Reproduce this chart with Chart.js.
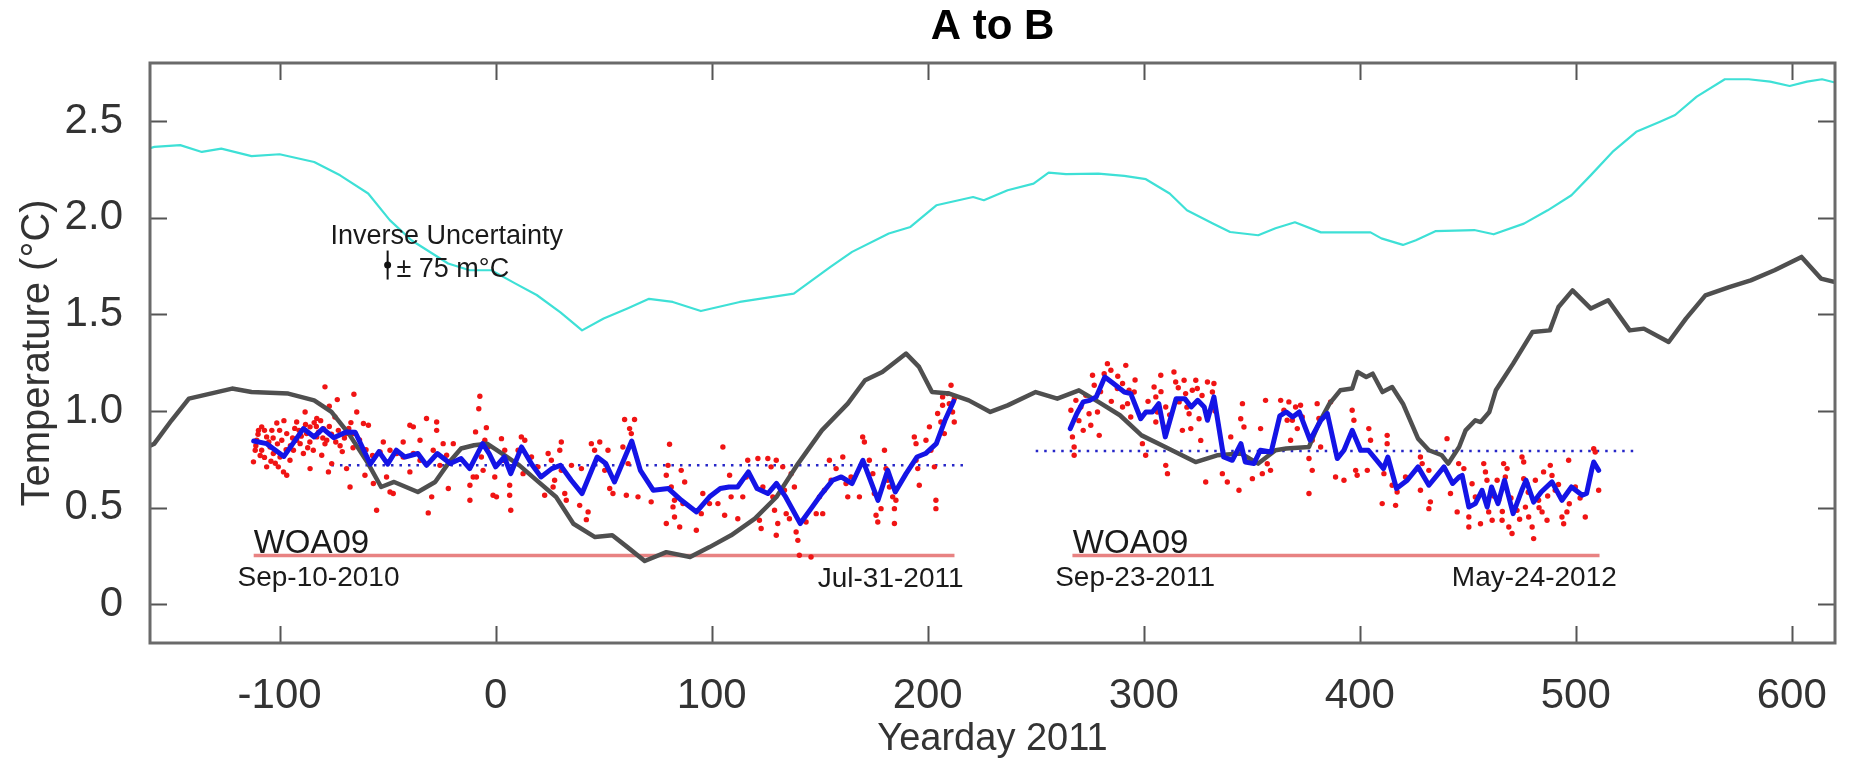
<!DOCTYPE html>
<html><head><meta charset="utf-8">
<script src="https://cdn.jsdelivr.net/npm/chart.js@4.4.1/dist/chart.umd.min.js"></script>
<style>html,body{margin:0;padding:0;background:#fff;} canvas{display:block;}</style>
</head><body>
<canvas id="c" width="1855" height="762"></canvas>
<script>
const FONT = '"Liberation Sans", Arial, Helvetica, sans-serif';

// ---- axis ticks ----
const xTickValues = [-100, 0, 100, 200, 300, 400, 500, 600];
const yTickValues = [0, 0.5, 1.0, 1.5, 2.0, 2.5];
const yTickLabels = ['0', '0.5', '1.0', '1.5', '2.0', '2.5'];

// ---- cyan curve ----
const cyanDays = [-160,-158,-146,-136,-127,-113,-100,-84,-72,-59,-49,-39,-22,-12,-2,9,19,30,40,50,61,71,82,95,113,138,155,165,182,192,204,221,226,237,249,256,264,279,291,301,312,320,332,340,353,361,370,382,405,410,420,426,435,453,462,476,487,498,507,517,528,539,546,556,569,580,590,599,607,614,620];
const cyanTemps = [2.36,2.366,2.375,2.34,2.357,2.318,2.328,2.288,2.219,2.125,1.987,1.883,1.763,1.728,1.728,1.66,1.60,1.51,1.417,1.478,1.53,1.58,1.564,1.517,1.564,1.607,1.745,1.823,1.918,1.952,2.064,2.107,2.09,2.142,2.176,2.233,2.225,2.228,2.216,2.199,2.125,2.038,1.97,1.926,1.909,1.945,1.976,1.924,1.924,1.893,1.859,1.883,1.93,1.936,1.914,1.969,2.038,2.116,2.22,2.34,2.444,2.496,2.531,2.626,2.716,2.716,2.704,2.681,2.704,2.716,2.699];

// ---- dark gray curve ----
const grayDays = [-160,-158,-150,-142,-132,-122,-113,-96,-84,-76,-68,-59,-53,-47,-36,-28,-22,-16,-10,-4,3,11,19,28,36,46,54,61,69,79,90,99,109,120,130,140,151,163,171,179,190,196,202,210,219,229,237,250,260,270,279,289,299,310,324,334,345,353,361,366,376.5,381,386,391,396.5,399,403,406,410.5,415,420,427,432,438,441,446,449,453.5,456,460,463,466,471,480,488,492,498.5,507,515,525,531.5,543,551,560,571,581,592,604.5,613.5,620];
const grayTemps = [0.82,0.831,0.952,1.064,1.09,1.116,1.098,1.09,1.055,0.995,0.883,0.728,0.607,0.633,0.581,0.633,0.728,0.806,0.823,0.831,0.78,0.719,0.641,0.555,0.417,0.348,0.357,0.296,0.224,0.27,0.245,0.296,0.357,0.443,0.555,0.728,0.9,1.038,1.159,1.202,1.297,1.228,1.098,1.09,1.055,0.995,1.029,1.098,1.064,1.107,1.047,0.978,0.874,0.814,0.736,0.771,0.78,0.728,0.797,0.806,0.814,0.935,1.038,1.107,1.116,1.202,1.176,1.193,1.098,1.124,1.038,0.857,0.797,0.771,0.728,0.814,0.90,0.952,0.943,0.995,1.107,1.159,1.245,1.409,1.417,1.538,1.624,1.53,1.573,1.417,1.426,1.357,1.478,1.598,1.641,1.676,1.728,1.797,1.685,1.667];

// ---- blue smoothed series (two deployments) ----
const blue1Days = [-112,-106,-98,-89,-84,-80,-75,-69,-65,-58,-54,-50,-46,-42,-36,-32,-27,-21,-16,-12,-6,-3,0,4,7,12,17,21,26,30,35,40,47,51,55,63,67,73,80,86,93,99,104,108,112,117,121,126,130,134,141,146,151,156,160,165,170,177,181.5,185,190,195,199,204,208,212];
const blue1Temps = [0.845,0.831,0.765,0.909,0.866,0.909,0.862,0.892,0.89,0.725,0.79,0.725,0.797,0.762,0.78,0.719,0.78,0.728,0.754,0.702,0.831,0.78,0.711,0.762,0.676,0.814,0.719,0.659,0.702,0.719,0.642,0.573,0.762,0.728,0.633,0.845,0.693,0.59,0.599,0.538,0.478,0.556,0.599,0.607,0.607,0.685,0.599,0.573,0.625,0.56,0.418,0.495,0.573,0.642,0.659,0.625,0.745,0.538,0.693,0.581,0.676,0.762,0.78,0.831,0.952,1.05];
const blue2Days = [266,269,272,275,278,282,286,291,294,298.6,301,304,307,310,315,319,322,325,328,329.5,332.5,337,341,345,347,351,354,359,363,366,369,372,377,382,385,389.6,392.7,396.5,400.4,404,411,413,417,422,427,432,439,443,446,447.4,450.5,453.5,456.6,459,461,464,467,471,475,477,480.5,484,489,493.6,498,503,505,507.5,508.3,510.6];
const blue2Temps = [0.909,0.986,1.047,1.055,1.073,1.176,1.142,1.098,1.09,0.96,0.995,0.995,1.038,0.866,1.064,1.064,1.021,1.055,1.021,0.952,1.073,0.762,0.745,0.831,0.736,0.728,0.797,0.788,0.975,0.995,0.969,0.995,0.849,0.952,0.987,0.754,0.797,0.90,0.797,0.797,0.702,0.762,0.599,0.642,0.711,0.616,0.711,0.625,0.659,0.667,0.503,0.521,0.59,0.503,0.607,0.521,0.642,0.469,0.59,0.642,0.529,0.581,0.633,0.538,0.607,0.564,0.573,0.702,0.736,0.693];

// ---- individual observations (red dots) ----
const dotDays = [
-79.0,-65.6,-73.3,-77.0,-64.3,-88.2,-82.8,-74.4,-108.3,-101.3,-92.1,-85.9,-96.7,-106.0,-110.6,-111.3,-104.4,-99.8,-93.6,-90.5,-82.8,-78.2,-72.8,-69.0,-61.2,-58.9,-65.9,-112.1,-106.0,-100.6,-98.2,-96.7,-85.9,-77.4,-75.9,-69.0,-60.5,-56.6,-67.4,-50.5,-48.9,-47.4,-55.1,-31.2,-29.6,-39.7,-32.0,-27.3,-27.3,-39.7,-52.0,-48.9,-42.8,-35.0,-38.1,-28.9,-24.3,-22.7,-42.8,-45.8,-53.5,-35.0,-25.8,-21.9,-11.9,-11.9,-10.4,-38.1,-19.6,-92.1,-89.0,-84.4,-80.5,-102.9,-95.2,-99.0,-108.3,-109.8,-103.6,-87.5,-79.7,
-110,-107,-104,-101,-97,-94,-91,-88,-86,-83,-81,-79,-76,-72,-70,-67,-63,-60,-57,
-111,-109,-107,-105,-103,-102,-100,-98,-95,-93,-90,-87,-84,-82,-80,-77,-74,-71,-68,-66,
-7.3,-7.8,-9.3,-4.3,-5.0,-3.5,-6.6,-8.9,-5.8,-0.4,-1.2,0.4,2.7,4.2,3.5,6.5,6.5,7.0,11.9,13.5,10.4,12.7,16.6,19.6,22.7,24.3,25.8,27.3,26.6,30.4,29.7,30.4,32.0,32.7,35.1,39.7,38.9,42.8,42.0,44.3,45.8,48.2,47.4,50.5,52.0,52.8,54.3,58.9,59.7,64.3,62.0,62.8,61.3,60.5,65.9,72.0,80.5,79.8,79.0,81.3,82.8,82.1,82.8,79.0,85.9,87.5,86.7,85.2,92.9,95.2,
95.9,99.0,102.9,105.2,106.0,108.3,109.0,112.1,114.4,116.7,116.0,121.4,122.1,122.9,123.7,126.0,127.5,128.3,129.1,129.9,130.6,129.9,132.9,133.7,134.5,136.8,138.3,136.0,139.1,139.9,140.6,146.0,143.7,148.4,149.9,152.2,151.4,154.5,155.3,157.6,160.7,162.2,163.0,164.5,168.4,169.9,170.7,173.0,174.6,175.3,176.1,176.9,178.4,180.0,180.7,181.5,182.3,183.8,184.6,184.6,185.3,193.8,194.6,194.6,195.4,196.1,199.2,200.8,201.5,203.1,203.8,203.8,204.6,206.1,206.9,207.7,209.2,210.0,210.8,211.5,212.3,206.9,212.3,
267.0,267.8,267.8,266.3,268.6,270.9,273.2,274.7,275.5,276.3,277.1,278.6,279.4,281.7,283.2,284.8,287.8,290.2,291.7,293.2,295.6,290.2,292.5,294.0,298.6,299.4,300.9,304.8,305.6,306.3,307.9,305.6,310.2,309.4,310.2,311.0,314.0,314.8,316.4,317.9,318.7,319.4,321.0,321.8,322.5,324.1,324.8,325.6,326.4,329.5,331.8,332.5,328.7,336.4,338.7,340.3,344.1,344.9,345.7,346.4,350.3,354.1,354.9,356.4,357.2,358.7,363.4,364.9,366.4,
270,272,280,285,288,296,302,308,312,316,320,327,333,
367.2,370.3,372.6,368.8,371.1,368.0,373.4,380.3,381.1,378.0,376.5,378.0,376.5,381.9,386.5,388.8,392.7,396.5,397.3,398.1,398.8,404.2,405.0,403.5,412.7,412.7,411.2,410.4,415.0,417.3,416.6,421.2,428.1,428.9,428.1,432.0,432.7,432.0,440.4,442.0,445.1,445.8,
448.2,450.5,450.5,452.0,453.5,457.4,458.2,458.9,459.7,461.3,455.9,463.6,464.3,466.6,468.2,467.4,465.9,469.0,470.5,472.8,475.1,475.9,475.9,477.4,476.7,478.2,479.8,481.3,480.5,482.8,484.4,485.1,488.2,489.0,486.7,490.5,493.6,494.4,495.9,496.7,499.8,504.4,508.3,509.0,510.6,
462,466,470,474,478,483,487,492,497,502];
const dotTemps = [
1.125,1.087,1.059,1.025,0.995,0.995,0.961,0.969,0.918,0.938,0.943,0.918,0.883,0.866,0.849,0.797,0.814,0.762,0.797,0.831,0.866,0.849,0.900,0.883,0.935,0.926,0.883,0.737,0.711,0.711,0.685,0.668,0.702,0.685,0.728,0.702,0.668,0.625,0.607,0.659,0.581,0.573,0.487,0.473,0.556,0.685,0.961,0.943,0.900,0.926,0.840,0.797,0.840,0.849,0.780,0.797,0.831,0.771,0.762,0.780,0.788,0.745,0.719,0.599,0.616,0.538,0.659,0.918,0.831,0.849,0.780,0.797,0.771,0.780,0.745,0.849,0.797,0.900,0.900,0.883,0.909,
0.88,0.76,0.74,0.83,0.80,0.86,0.90,0.93,0.84,0.92,0.95,0.83,0.88,0.82,0.86,0.94,0.85,0.80,0.77,
0.82,0.77,0.90,0.84,0.86,0.73,0.90,0.95,0.82,0.91,0.87,0.81,0.94,0.89,0.86,0.92,0.84,0.79,0.91,0.81,
1.076,1.012,0.892,0.914,0.849,0.814,0.762,0.659,0.693,0.659,0.564,0.556,0.857,0.797,0.745,0.616,0.564,0.487,0.866,0.849,0.797,0.676,0.762,0.711,0.564,0.780,0.745,0.642,0.607,0.840,0.797,0.693,0.573,0.538,0.719,0.702,0.512,0.478,0.438,0.831,0.797,0.840,0.754,0.693,0.797,0.599,0.573,0.814,0.956,0.956,0.909,0.883,0.728,0.564,0.556,0.530,0.828,0.719,0.668,0.607,0.538,0.504,0.452,0.418,0.693,0.633,0.521,0.400,0.383,0.469,
0.573,0.521,0.521,0.814,0.461,0.668,0.556,0.443,0.556,0.745,0.659,0.754,0.435,0.392,0.607,0.754,0.711,0.556,0.487,0.357,0.418,0.745,0.711,0.590,0.469,0.676,0.607,0.443,0.374,0.331,0.254,0.245,0.426,0.469,0.556,0.590,0.469,0.745,0.642,0.702,0.762,0.625,0.556,0.659,0.556,0.866,0.840,0.745,0.676,0.573,0.461,0.426,0.495,0.797,0.702,0.642,0.607,0.556,0.495,0.418,0.538,0.866,0.831,0.745,0.702,0.616,0.849,0.918,0.797,0.711,0.538,0.495,0.987,0.943,1.030,0.883,1.090,1.038,1.133,0.995,1.064,1.073,0.943,
0.866,0.814,0.771,1.004,1.055,1.021,1.081,0.986,0.926,1.185,1.133,0.995,0.874,1.193,1.245,1.211,1.116,1.142,1.236,1.107,1.098,1.021,1.038,0.969,0.969,0.831,0.771,1.124,1.073,0.995,1.185,0.943,1.021,0.917,0.719,0.676,1.202,1.150,1.047,0.900,1.159,1.090,0.986,0.909,1.107,1.159,1.116,0.960,0.848,1.150,1.098,1.142,0.633,0.676,0.633,0.866,0.590,0.960,1.038,0.917,0.650,0.909,0.676,1.055,0.727,0.693,1.055,1.004,0.952,
0.95,0.90,1.10,1.05,1.18,1.16,1.05,1.10,0.98,1.12,1.02,1.08,1.00,
1.047,1.021,1.030,0.952,0.909,0.849,0.969,1.038,0.961,0.849,0.754,0.693,0.573,0.814,1.047,0.659,0.642,1.004,0.952,0.693,0.668,0.909,0.849,0.693,0.874,0.831,0.676,0.521,0.616,0.581,0.512,0.659,0.762,0.728,0.590,0.693,0.530,0.495,0.857,0.573,0.478,0.728,
0.702,0.452,0.400,0.624,0.555,0.728,0.685,0.642,0.478,0.435,0.417,0.642,0.538,0.728,0.702,0.659,0.435,0.400,0.366,0.486,0.762,0.736,0.650,0.624,0.503,0.452,0.400,0.642,0.340,0.538,0.478,0.685,0.719,0.667,0.435,0.590,0.452,0.417,0.478,0.745,0.607,0.452,0.805,0.788,0.590,
0.56,0.48,0.55,0.44,0.58,0.50,0.56,0.62,0.52,0.55];

// ---- reference levels ----
const woaDays1 = [-112, 212.4];
const woaDays2 = [267, 511];
const woaTemp = 0.253;
const meanDays1 = [-76, 219];
const meanTemp1 = 0.72;
const meanDays2 = [250, 528];
const meanTemp2 = 0.793;

// ---- uncertainty marker ----
const errDay = -50;
const errCenter = 1.755;
const errHalf = 0.075;

// ---- text annotations (anchored in data space) ----
const annoTexts = ['WOA09', 'Sep-10-2010', 'Jul-31-2011', 'WOA09', 'Sep-23-2011', 'May-24-2012', 'Inverse Uncertainty', '\u00B1 75 m\u00B0C'];
const annoDays  = [-112, -82, 216.6, 267.2, 296, 519, -22.6, -45.9];
const annoTemps = [0.264, 0.095, 0.092, 0.264, 0.095, 0.095, 1.862, 1.694];
const annoAlign = ['left', 'center', 'right', 'left', 'center', 'right', 'center', 'left'];
const annoSizes = [33, 28, 28, 33, 28, 28, 27, 27];

const toPts = (xs, ys) => xs.map((x, i) => ({x: x, y: ys[i]}));
const hline = (xs, y) => xs.map(x => ({x: x, y: y}));

const lineDs = (label, data, color, width, extra) => Object.assign({
  label, data, showLine: true, borderColor: color, borderWidth: width,
  pointRadius: 0, tension: 0, fill: false, borderJoinStyle: 'round', borderCapStyle: 'round'
}, extra || {});

const bgPlugin = {
  id: 'bg',
  beforeDraw(chart) {
    const c = chart.ctx; c.save(); c.fillStyle = '#fff';
    c.fillRect(0, 0, chart.width, chart.height); c.restore();
  }
};

const framePlugin = {
  id: 'frame',
  afterDatasetsDraw(chart) {
    const {ctx, chartArea: a, scales} = chart;
    ctx.save();
    // annotations
    ctx.fillStyle = '#1a1a1a';
    ctx.textBaseline = 'alphabetic';
    annoTexts.forEach((t, i) => {
      ctx.font = annoSizes[i] + 'px ' + FONT;
      ctx.textAlign = annoAlign[i];
      ctx.fillText(t, scales.x.getPixelForValue(annoDays[i]), scales.y.getPixelForValue(annoTemps[i]));
    });
    // ticks
    const L = 17;
    ctx.strokeStyle = '#555';
    ctx.lineWidth = 2;
    ctx.beginPath();
    xTickValues.forEach(v => {
      const px = Math.round(scales.x.getPixelForValue(v)) + 0.5;
      ctx.moveTo(px, a.bottom); ctx.lineTo(px, a.bottom - L);
      ctx.moveTo(px, a.top); ctx.lineTo(px, a.top + L);
    });
    yTickValues.forEach(v => {
      const py = Math.round(scales.y.getPixelForValue(v)) + 0.5;
      ctx.moveTo(a.left, py); ctx.lineTo(a.left + L, py);
      ctx.moveTo(a.right, py); ctx.lineTo(a.right - L, py);
    });
    ctx.stroke();
    // frame
    ctx.strokeStyle = '#6a6a6a';
    ctx.lineWidth = 3;
    ctx.strokeRect(a.left, a.top, a.right - a.left, a.bottom - a.top);
    ctx.restore();
  }
};

new Chart(document.getElementById('c'), {
  type: 'scatter',
  data: {
    datasets: [
      lineDs('blue1', toPts(blue1Days, blue1Temps), '#1414e6', 5),
      lineDs('blue2', toPts(blue2Days, blue2Temps), '#1414e6', 5),
      lineDs('gray', toPts(grayDays, grayTemps), '#4f4f4f', 4.5),
      {label: 'obs', data: toPts(dotDays, dotTemps), showLine: false, pointRadius: 2.7,
       pointBackgroundColor: '#f01414', pointBorderWidth: 0, borderWidth: 0},
      lineDs('mean1', hline(meanDays1, meanTemp1), '#2626c8', 2.5, {borderDash: [2.5, 6], borderCapStyle: 'butt'}),
      lineDs('mean2', hline(meanDays2, meanTemp2), '#2626c8', 2.5, {borderDash: [2.5, 6], borderCapStyle: 'butt'}),
      lineDs('woa1', hline(woaDays1, woaTemp), '#e88282', 3.5, {borderCapStyle: 'butt'}),
      lineDs('woa2', hline(woaDays2, woaTemp), '#e88282', 3.5, {borderCapStyle: 'butt'}),
      lineDs('cyan', toPts(cyanDays, cyanTemps), '#3ee0d6', 2.2),
      lineDs('errbar', [{x: errDay, y: errCenter - errHalf}, {x: errDay, y: errCenter + errHalf}], '#111', 2, {borderCapStyle: 'butt'}),
      {label: 'errdot', data: [{x: errDay, y: errCenter}], showLine: false, pointRadius: 3.5,
       pointBackgroundColor: '#111', pointBorderWidth: 0}
    ]
  },
  options: {
    responsive: false,
    animation: false,
    devicePixelRatio: 1,
    events: [],
    layout: {padding: {left: 0, right: 20, top: 0, bottom: 0}},
    plugins: {
      legend: {display: false},
      tooltip: {enabled: false},
      title: {
        display: true, text: 'A to B', fullSize: false, color: '#000',
        font: {family: FONT, size: 42, weight: 'bold', lineHeight: 1.2},
        padding: {top: 2, bottom: 10.6}
      }
    },
    scales: {
      x: {
        type: 'linear', min: -160, max: 620,
        grid: {display: false}, border: {display: false},
        afterBuildTicks: s => { s.ticks = xTickValues.map(v => ({value: v})); },
        ticks: {font: {family: FONT, size: 42, lineHeight: 1.2}, color: '#333', padding: 20,
                maxRotation: 0, autoSkip: false, callback: (v, i) => String(xTickValues[i])},
        title: {display: true, text: 'Yearday 2011', color: '#333',
                font: {family: FONT, size: 38, lineHeight: 1.2}, padding: {top: 0, bottom: 0}},
        afterFit: s => { s.height = 119; }
      },
      y: {
        type: 'linear', min: -0.2, max: 2.8,
        grid: {display: false}, border: {display: false},
        afterBuildTicks: s => { s.ticks = yTickValues.map(v => ({value: v})); },
        ticks: {font: {family: FONT, size: 42, lineHeight: 1.2}, color: '#333', padding: 19,
                autoSkip: false, callback: (v, i) => yTickLabels[i]},
        title: {display: true, text: 'Temperature (\u00B0C)', color: '#333',
                font: {family: FONT, size: 40, lineHeight: 1.2}, padding: {top: 14, bottom: 0}},
        afterFit: s => { s.width = 150; }
      }
    }
  },
  plugins: [bgPlugin, framePlugin]
});
</script>
</body></html>
